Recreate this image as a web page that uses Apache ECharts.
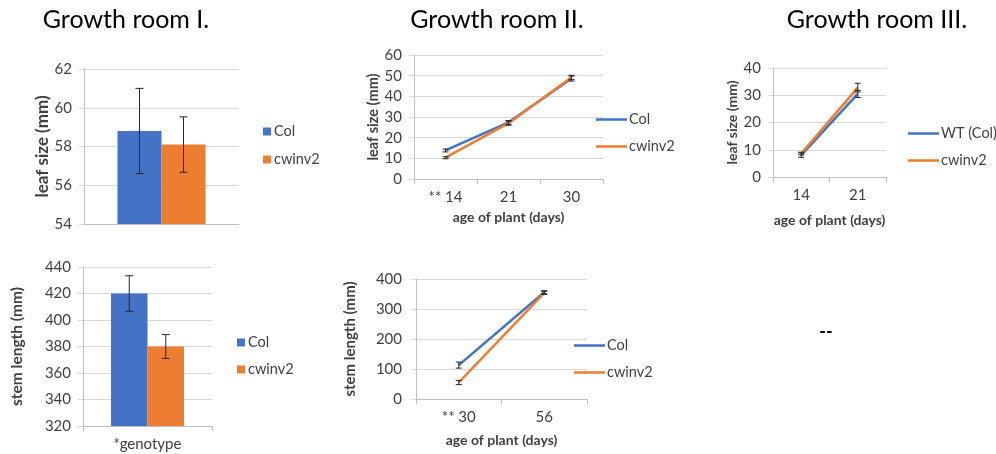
<!DOCTYPE html>
<html>
<head>
<meta charset="utf-8">
<script src="https://cdn.jsdelivr.net/npm/echarts@6/dist/echarts.min.js"></script>
<style>
  html, body { margin: 0; padding: 0; background: #fff; }
  #chart { width: 996px; height: 454px; }
</style>
</head>
<body>
<div id="chart"></div>
<script>
// ---- data ----
const panelTitles = ['Growth room I.', 'Growth room II.', 'Growth room III.'];

// Growth room I: leaf size (mm), mean and error
const room1LeafCol = 58.8, room1LeafColErr = 2.2;
const room1LeafCwinv2 = 58.1, room1LeafCwinv2Err = 1.43;
// Growth room I: stem length (mm)
const room1StemCol = 420, room1StemColErr = 13.4;
const room1StemCwinv2 = 380, room1StemCwinv2Err = 9;
const room1StemCategory = ['*genotype'];

// Growth room II: leaf size over age
const room2LeafDays = ['** 14', '21', '30'];
const room2LeafCol = [13.8, 27.4, 48.6];
const room2LeafColErr = [0.7, 0.9, 1.2];
const room2LeafCwinv2 = [10.3, 27.0, 49.2];
const room2LeafCwinv2Err = [0.5, 1.0, 1.0];

// Growth room II: stem length over age
const room2StemDays = ['** 30', '56'];
const room2StemCol = [113, 356];
const room2StemColErr = [10, 5];
const room2StemCwinv2 = [55, 354];
const room2StemCwinv2Err = [7, 5];

// Growth room III: leaf size over age
const room3LeafDays = ['14', '21'];
const room3LeafWT = [8.0, 30.5];
const room3LeafWTErr = [0.8, 1.3];
const room3LeafCwinv2 = [8.6, 32.8];
const room3LeafCwinv2Err = [0.5, 1.6];

// ---- styling ----
const BLUE = '#4472C4', ORANGE = '#ED7D31';
const FONT = 'Lato';
const TXT = '#404040';
const GRID_LINE = '#D9D9D9', AXIS_LINE = '#BFBFBF';
const ERR = '#262626';
const TICK_FS = 15, NAME_FS = 14, LEGEND_FS = 14.5;

const chart = echarts.init(document.getElementById('chart'), null, { renderer: 'canvas' });

const grids = [
  { left: 84, top: 69, width: 155, height: 155 },   // room I leaf
  { left: 83, top: 267, width: 129, height: 159 },  // room I stem
  { left: 414, top: 55, width: 189, height: 124 },  // room II leaf
  { left: 416, top: 279, width: 171, height: 120 }, // room II stem
  { left: 773, top: 68, width: 113, height: 109 }   // room III leaf
];

function xAxis(gridIndex, data, opts) {
  return Object.assign({
    type: 'category', gridIndex, data,
    axisLine: { lineStyle: { color: AXIS_LINE } },
    axisTick: { show: true, length: 5, lineStyle: { color: AXIS_LINE } },
    axisLabel: { color: TXT, fontFamily: FONT, fontSize: TICK_FS, margin: 11 },
    nameLocation: 'middle',
    nameTextStyle: { color: TXT, fontFamily: FONT, fontSize: NAME_FS, fontWeight: 'bold' },
    splitLine: { show: false }
  }, opts);
}
function yAxis(gridIndex, min, max, interval, name, nameSize, nameGap, margin) {
  return {
    type: 'value', gridIndex, min, max, interval,
    name, nameLocation: 'middle', nameGap, nameRotate: 90,
    nameTextStyle: { color: TXT, fontFamily: FONT, fontSize: nameSize, fontWeight: 'bold' },
    axisLine: { show: true, lineStyle: { color: AXIS_LINE } },
    axisTick: { show: true, length: 5, lineStyle: { color: GRID_LINE } },
    axisLabel: { color: TXT, fontFamily: FONT, fontSize: TICK_FS, margin },
    splitLine: { lineStyle: { color: GRID_LINE } }
  };
}

// error whiskers drawn through the axis scales
function errorBars(axisIndex, means, errs, shiftPx, cap) {
  return {
    type: 'custom', xAxisIndex: axisIndex, yAxisIndex: axisIndex, silent: true, z: 6,
    data: means.map((m, i) => [i, m - errs[i], m + errs[i]]),
    renderItem: function (params, api) {
      const lo = api.coord([api.value(0), api.value(1)]);
      const hi = api.coord([api.value(0), api.value(2)]);
      const x = lo[0] + shiftPx;
      const st = { stroke: ERR, lineWidth: 1 };
      return {
        type: 'group', children: [
          { type: 'line', shape: { x1: x, y1: lo[1], x2: x, y2: hi[1] }, style: st },
          { type: 'line', shape: { x1: x - cap, y1: hi[1], x2: x + cap, y2: hi[1] }, style: st },
          { type: 'line', shape: { x1: x - cap, y1: lo[1], x2: x + cap, y2: lo[1] }, style: st }
        ]
      };
    }
  };
}

function lineSeries(axisIndex, name, values, color) {
  return {
    type: 'line', name, xAxisIndex: axisIndex, yAxisIndex: axisIndex, data: values,
    symbol: 'none', lineStyle: { color, width: 2.5 }, itemStyle: { color }, z: 3
  };
}

const barW1 = 44, barW2 = 36.5;

const series = [
  // room I leaf bars
  { type: 'bar', name: 'a:Col', xAxisIndex: 0, yAxisIndex: 0, data: [room1LeafCol], barWidth: barW1, barGap: '0%', itemStyle: { color: BLUE } },
  { type: 'bar', name: 'a:cwinv2', xAxisIndex: 0, yAxisIndex: 0, data: [room1LeafCwinv2], barWidth: barW1, barGap: '0%', itemStyle: { color: ORANGE } },
  errorBars(0, [room1LeafCol], [room1LeafColErr], -barW1 / 2, 4),
  errorBars(0, [room1LeafCwinv2], [room1LeafCwinv2Err], barW1 / 2, 4),
  // room I stem bars
  { type: 'bar', name: 'b:Col', xAxisIndex: 1, yAxisIndex: 1, data: [room1StemCol], barWidth: barW2, barGap: '0%', itemStyle: { color: BLUE } },
  { type: 'bar', name: 'b:cwinv2', xAxisIndex: 1, yAxisIndex: 1, data: [room1StemCwinv2], barWidth: barW2, barGap: '0%', itemStyle: { color: ORANGE } },
  errorBars(1, [room1StemCol], [room1StemColErr], -barW2 / 2, 4),
  errorBars(1, [room1StemCwinv2], [room1StemCwinv2Err], barW2 / 2, 4),
  // room II leaf
  lineSeries(2, 'c:Col', room2LeafCol, BLUE),
  lineSeries(2, 'c:cwinv2', room2LeafCwinv2, ORANGE),
  errorBars(2, room2LeafCol, room2LeafColErr, 0, 3),
  errorBars(2, room2LeafCwinv2, room2LeafCwinv2Err, 0, 3),
  // room II stem
  lineSeries(3, 'd:Col', room2StemCol, BLUE),
  lineSeries(3, 'd:cwinv2', room2StemCwinv2, ORANGE),
  errorBars(3, room2StemCol, room2StemColErr, 0, 3),
  errorBars(3, room2StemCwinv2, room2StemCwinv2Err, 0, 3),
  // room III leaf
  lineSeries(4, 'e:WT (Col)', room3LeafWT, BLUE),
  lineSeries(4, 'e:cwinv2', room3LeafCwinv2, ORANGE),
  errorBars(4, room3LeafWT, room3LeafWTErr, 0, 3),
  errorBars(4, room3LeafCwinv2, room3LeafCwinv2Err, 0, 3)
];

function legend(name, left, centerY, isBar) {
  return {
    data: [name], left, top: centerY - 9, orient: 'vertical',
    icon: 'rect',
    itemWidth: isBar ? 8 : 31, itemHeight: isBar ? 8 : 2.5,
    selectedMode: false,
    formatter: n => n.slice(2),
    textStyle: { color: TXT, fontFamily: FONT, fontSize: LEGEND_FS, padding: [0, 0, 0, isBar ? -2 : -3] },
    padding: 0
  };
}

const option = {
  animation: false,
  backgroundColor: '#fff',
  grid: grids,
  xAxis: [
    xAxis(0, [''], { axisTick: { show: false }, axisLabel: { show: false } }),
    xAxis(1, room1StemCategory),
    xAxis(2, room2LeafDays, { name: 'age of plant (days)', nameGap: 31 }),
    xAxis(3, room2StemDays, { name: 'age of plant (days)', nameGap: 34 }),
    xAxis(4, room3LeafDays, { name: 'age of plant (days)', nameGap: 36 })
  ],
  yAxis: [
    yAxis(0, 54, 62, 2, 'leaf size (mm)', 17, 32, 12),
    yAxis(1, 320, 440, 20, 'stem length (mm)', 15.5, 58, 12),
    yAxis(2, 0, 60, 10, 'leaf size (mm)', 14.5, 33.5, 12),
    yAxis(3, 0, 400, 100, 'stem length (mm)', 15, 58, 14),
    yAxis(4, 0, 40, 10, 'leaf size (mm)', 14, 28, 12)
  ],
  legend: [
    legend('a:Col', 263, 133, true),
    legend('a:cwinv2', 263, 161, true),
    legend('b:Col', 237, 344, true),
    legend('b:cwinv2', 237, 371, true),
    legend('c:Col', 596, 121, false),
    legend('c:cwinv2', 596, 148, false),
    legend('d:Col', 574, 347, false),
    legend('d:cwinv2', 574, 374, false),
    legend('e:WT (Col)', 908, 135, false),
    legend('e:cwinv2', 908, 162, false)
  ],
  graphic: [
    { type: 'text', x: 126, y: 20, style: { text: panelTitles[0], font: '25px ' + FONT, fill: '#000', align: 'center', verticalAlign: 'middle' } },
    { type: 'text', x: 497, y: 20, style: { text: panelTitles[1], font: '25px ' + FONT, fill: '#000', align: 'center', verticalAlign: 'middle' } },
    { type: 'text', x: 877, y: 20, style: { text: panelTitles[2], font: '25px ' + FONT, fill: '#000', align: 'center', verticalAlign: 'middle' } },
    { type: 'text', x: 826, y: 332, style: { text: '--', font: 'bold 18px ' + FONT, fill: '#000', align: 'center', verticalAlign: 'middle' } }
  ],
  series
};

chart.setOption(option);
</script>
</body>
</html>
